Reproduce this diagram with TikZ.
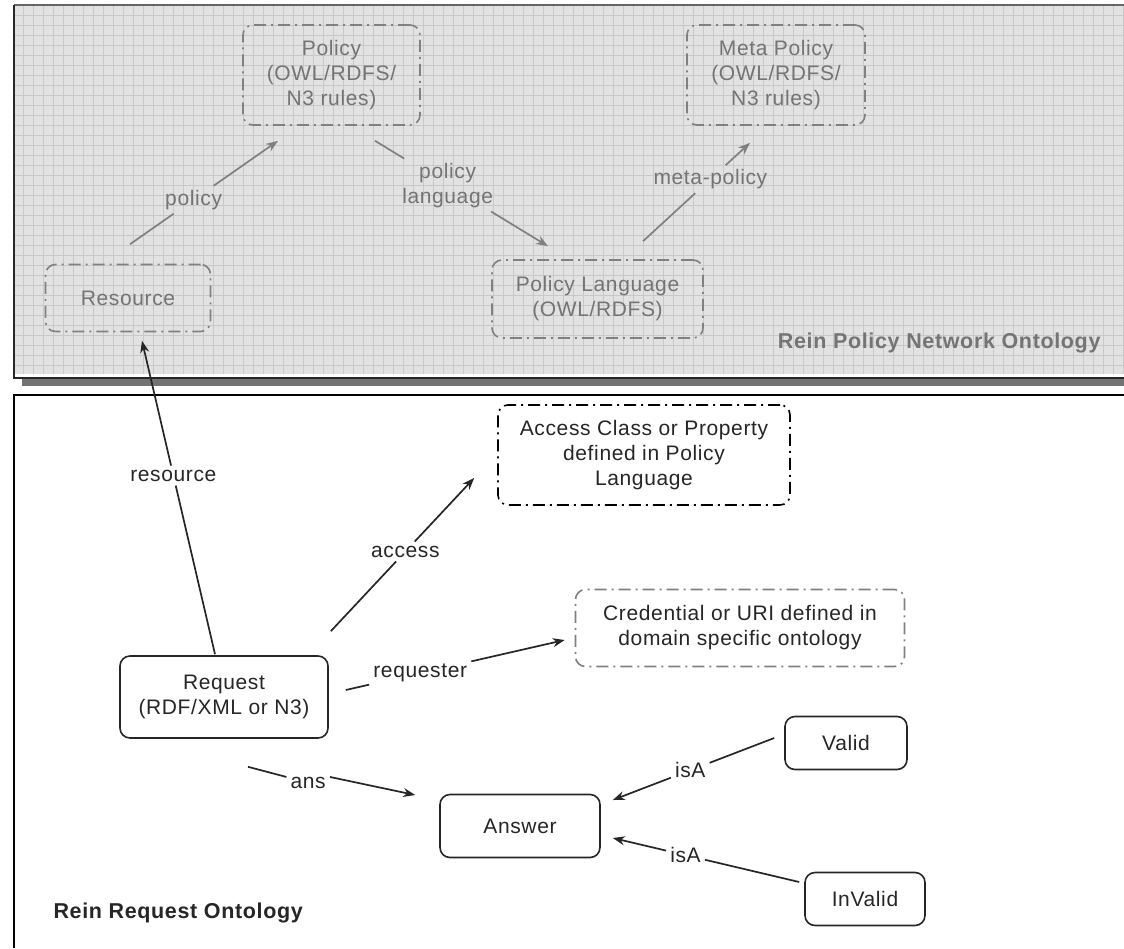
\documentclass[tikz,border=0pt]{standalone}
\usepackage{fontspec}
\setmainfont{Liberation Sans}[LetterSpace=3]
\usetikzlibrary{arrows.meta,calc}

\definecolor{panelbg}{HTML}{E2E2E2}
\definecolor{gridln}{HTML}{C8C8C8}
\definecolor{faded}{HTML}{747474}
\definecolor{fadedline}{HTML}{808080}
\definecolor{ink}{HTML}{262626}

\tikzset{
  txt/.style={font=\fontsize{21}{25}\selectfont, align=center},
  titletxt/.style={font=\fontsize{21.5}{25}\selectfont\bfseries},
  dashdot/.style={dash pattern=on 12pt off 5pt on 2pt off 5pt},
  ghostbox/.style={txt, draw=fadedline, text=faded, dashdot, line width=1.6pt,
    rounded corners=10pt, inner sep=0pt},
  inkbox/.style={txt, draw=ink, text=ink, line width=1.6pt,
    rounded corners=10pt, inner sep=0pt},
  inkdash/.style={inkbox, dashdot, draw=black},
  greydash/.style={inkbox, dashdot, draw=fadedline},
  ghostline/.style={draw=fadedline, line width=1.7pt},
  inkline/.style={draw=ink, line width=1.7pt},
  tip/.style={-{Stealth[length=12pt,width=9pt]}},
  ghostlabel/.style={txt, text=faded, inner sep=4pt},
  inklabel/.style={txt, text=ink, inner sep=4pt},
}

\begin{document}
\begin{tikzpicture}[x=1pt,y=-1pt]
\useasboundingbox (0,0) rectangle (1124,948);
\fill[white] (0,0) rectangle (1124,948);

% upper panel: grid paper with shadow
\fill[black!55] (22,379) rectangle (1124,386);
\fill[white] (14,5) rectangle (1124,378);
\fill[panelbg] (14,5) rectangle (1124,374);
\foreach \gx in {23,33,...,1123} \draw[gridln, line width=0.9pt] (\gx,5) -- (\gx,374);
\foreach \gy in {15,25,...,374} \draw[gridln, line width=0.9pt] (14,\gy) -- (1124,\gy);
\draw[black!60, line width=2.5pt] (14,5) -- (1124,5);
\draw[black!85, line width=2pt] (14,5) -- (14,378) -- (1124,378);

% lower panel frame
\draw[black, line width=2.5pt] (14,948) -- (14,395) -- (1124,395);

% upper panel nodes
\node[ghostbox, minimum width=177pt, minimum height=100pt] (policy) at (331.5,75)
  {Policy\\(OWL/RDFS/\\N3 rules)};
\node[ghostbox, minimum width=178pt, minimum height=100pt] (meta) at (776,75)
  {Meta Policy\\(OWL/RDFS/\\N3 rules)};
\node[ghostbox, minimum width=165pt, minimum height=67pt] (resource) at (128,298)
  {Resource};
\node[ghostbox, minimum width=211pt, minimum height=78pt] (plang) at (597.5,299)
  {Policy Language\\(OWL/RDFS)};
\node[titletxt, text=faded, anchor=east] (nettitle)
  at (1104,343) {Rein Policy Network Ontology};

% lower panel nodes
\node[inkdash, minimum width=292pt, minimum height=100pt] (access) at (644,455)
  {Access Class or Property\\defined in Policy\\Language};
\node[greydash, minimum width=329pt, minimum height=77pt] (cred) at (740,628)
  {Credential or URI defined in\\domain specific ontology};
\node[inkbox, minimum width=208pt, minimum height=82pt] (request) at (224,697)
  {Request\\(RDF/XML or N3)};
\node[inkbox, minimum width=122pt, minimum height=53pt] (valid) at (846,743) {Valid};
\node[inkbox, minimum width=160pt, minimum height=63pt] (answer) at (520,826) {Answer};
\node[inkbox, minimum width=120pt, minimum height=53pt] (invalid) at (865,899) {InValid};
\node[titletxt, text=ink, anchor=west] (reqtitle)
  at (50,913) {Rein Request Ontology};

% connector ends
\coordinate (c1a) at ([shift={(2,-19.5)}]resource.north);
\coordinate (c1b) at ([shift={(-53.5,15)}]policy.south);
\coordinate (c2a) at ([shift={(43.5,15)}]policy.south);
\coordinate (c2b) at ([shift={(-49.5,-13)}]plang.north);
\coordinate (c3a) at ([shift={(45.5,-18)}]plang.north);
\coordinate (c3b) at ([shift={(-26,17)}]meta.south);
\coordinate (c4a) at ([shift={(-9,-1)}]request.north);
\coordinate (c4b) at ([shift={(14,8.5)}]resource.south);
\coordinate (c5a) at ([shift={(2,-24)}]request.north east);
\coordinate (c5b) at ([shift={(-23,23)}]access.west);
\coordinate (c6a) at ([shift={(17,-7)}]request.east);
\coordinate (c6b) at ([shift={(-10,12)}]cred.west);
\coordinate (c7a) at ([shift={(24,28)}]request.south);
\coordinate (c7b) at ([shift={(-24,-31)}]answer.west);
\coordinate (c8a) at ([shift={(-10,-5)}]valid.west);
\coordinate (c8b) at ([shift={(12,-26)}]answer.east);
\coordinate (c9a) at ([shift={(-5,-17)}]invalid.west);
\coordinate (c9b) at ([shift={(12,12)}]answer.east);

% labels sitting on the connectors
\path (c1a) -- (c1b) node[ghostlabel, pos=0.43] (l1) {policy};
\path (c2a) -- (c2b) node[ghostlabel, pos=0.42] (l2) {policy\\language};
\path (c3a) -- (c3b) node[ghostlabel, pos=0.63] (l3) {meta-policy};
\path (c4a) -- (c4b) node[inklabel, pos=0.57] (l4) {resource};
\path (c5a) -- (c5b) node[inklabel, pos=0.52] (l5) {access};
\path (c6a) -- (c6b) node[inklabel, pos=0.34] (l6) {requester};
\path (c7a) -- (c7b) node[inklabel, pos=0.36, yshift=-6pt] (l7) {ans};
\path (c8a) -- (c8b) node[inklabel, pos=0.52] (l8) {isA};
\path (c9a) -- (c9b) node[inklabel, pos=0.61] (l9) {isA};

% upper panel connectors, broken by their labels
\draw[ghostline] (c1a) -- (l1);  \draw[ghostline, tip] (l1) -- (c1b);
\draw[ghostline] (c2a) -- (l2);  \draw[ghostline, tip] (l2) -- (c2b);
\draw[ghostline] (c3a) -- (l3);  \draw[ghostline, tip] (l3) -- (c3b);

% lower panel connectors
\draw[inkline] (c4a) -- (l4);  \draw[inkline, tip] (l4) -- (c4b);
\draw[inkline] (c5a) -- (l5);  \draw[inkline, tip] (l5) -- (c5b);
\draw[inkline] (c6a) -- (l6);  \draw[inkline, tip] (l6) -- (c6b);
\draw[inkline] (c7a) -- ([yshift=6pt]l7.west);  \draw[inkline, tip] ([yshift=6pt]l7.east) -- (c7b);
\draw[inkline] (c8a) -- (l8);  \draw[inkline, tip] (l8) -- (c8b);
\draw[inkline] (c9a) -- (l9);  \draw[inkline, tip] (l9) -- (c9b);
\end{tikzpicture}
\end{document}
